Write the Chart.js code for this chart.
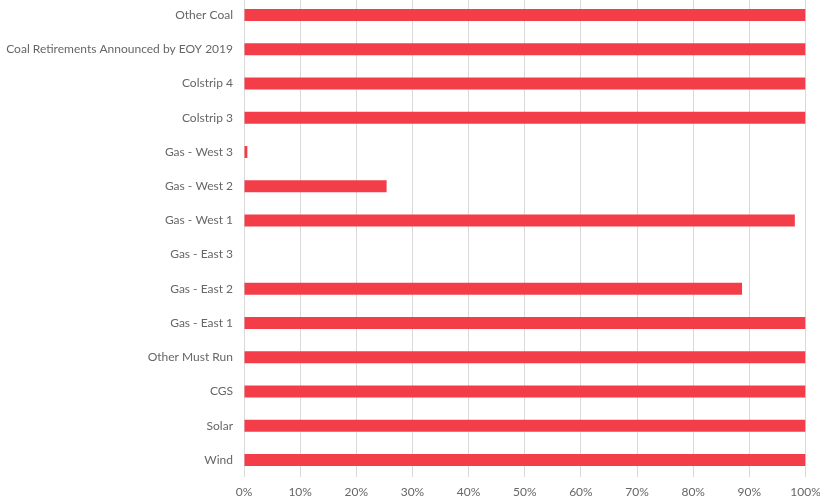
<!DOCTYPE html>
<html lang="en">
<head>
    <meta charset="UTF-8" />
    <title>Capacity share</title>
    <script src="https://cdn.jsdelivr.net/npm/chart.js"></script>
    <style>
        html, body {
            margin: 0;
            padding: 0;
            background: #fff;
            overflow: hidden;
        }

        #wrap {
            position: absolute;
            left: 0;
            top: -2px;
            width: 820px;
            height: 501px;
        }
    </style>
</head>
<body>
    <div id="wrap"><canvas id="chart"></canvas></div>

    <script>
        const categories = ['Other Coal', 'Coal Retirements Announced by EOY 2019', 'Colstrip 4', 'Colstrip 3',
            'Gas - West 3', 'Gas - West 2', 'Gas - West 1', 'Gas - East 3', 'Gas - East 2', 'Gas - East 1',
            'Other Must Run', 'CGS', 'Solar', 'Wind'];
        const shares = [100, 100, 100, 100, 0.6, 25.4, 98.1, 0, 88.7, 100, 100, 100, 100, 100];
        const xTicks = [0, 10, 20, 30, 40, 50, 60, 70, 80, 90, 100];

        Chart.defaults.font.family = 'Lato, "Open Sans", sans-serif';
        Chart.defaults.font.size = 12;
        Chart.defaults.color = '#666';

        new Chart(document.getElementById('chart'), {
            type: 'bar',
            data: {
                labels: categories,
                datasets: [{
                    data: shares,
                    backgroundColor: '#f33e4a',
                    barPercentage: 0.35,
                    categoryPercentage: 1
                }]
            },
            options: {
                indexAxis: 'y',
                responsive: true,
                maintainAspectRatio: false,
                animation: false,
                plugins: { legend: { display: false }, tooltip: { enabled: false } },
                scales: {
                    x: {
                        min: 0,
                        max: 100,
                        afterBuildTicks: s => { s.ticks = xTicks.map(v => ({ value: v })); },
                        afterFit: s => {
                            s.height = 22;
                            s.paddingLeft = 0;
                            s.paddingRight = 14.5;
                        },
                        border: { display: false },
                        grid: { color: '#d9d9d9', drawTicks: false },
                        ticks: { padding: 8, callback: v => v + '%' }
                    },
                    y: {
                        afterFit: s => {
                            s.width = 244;
                            s.paddingTop = 0;
                            s.paddingBottom = 0;
                        },
                        border: { display: false },
                        grid: { display: false, drawTicks: false },
                        ticks: { padding: 11 }
                    }
                }
            }
        });
    </script>
</body>
</html>
